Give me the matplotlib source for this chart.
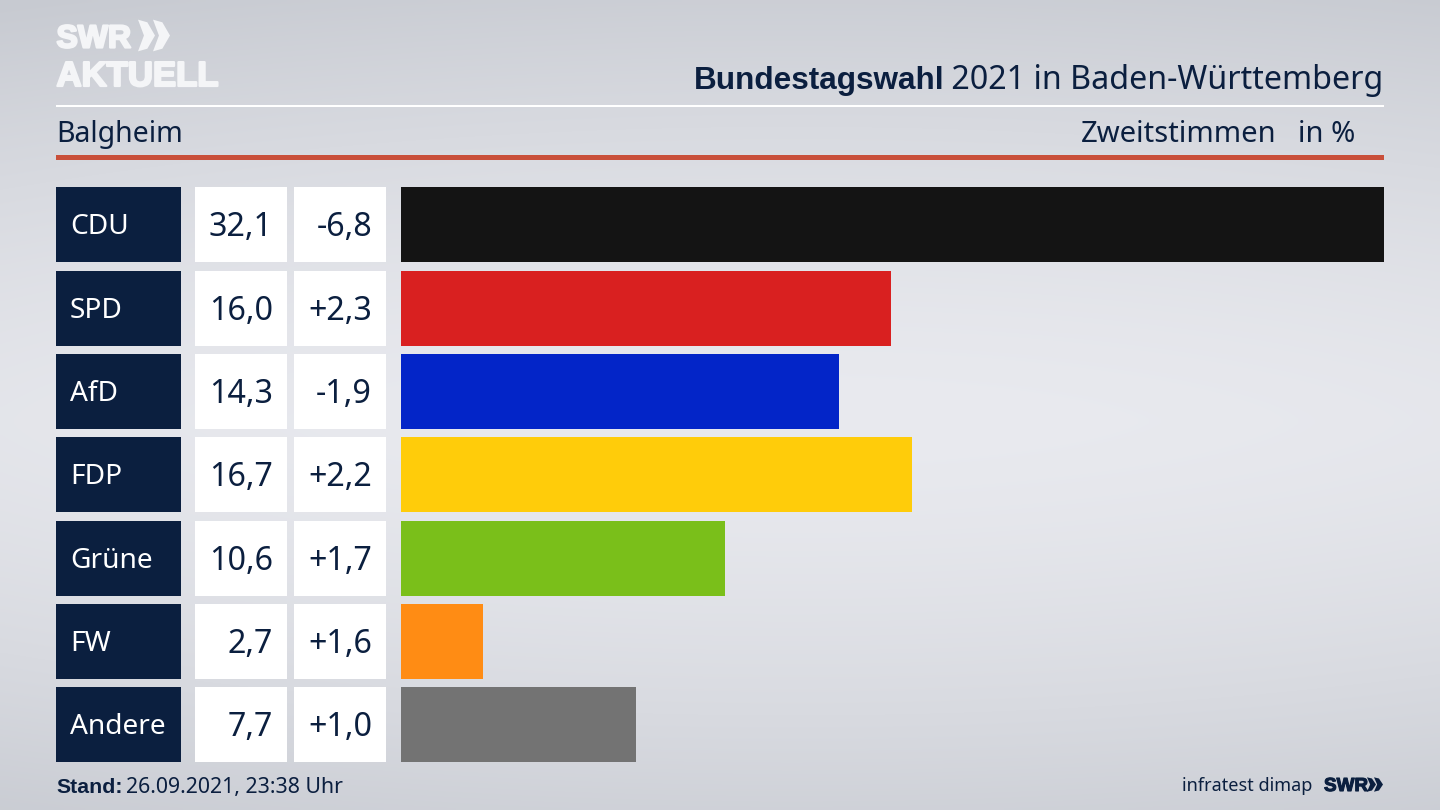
# SWR Bundestagswahl 2021 result chart for Balgheim

import numpy as np
import matplotlib
matplotlib.use('Agg')
import matplotlib.pyplot as plt
import matplotlib.patheffects as pe
from matplotlib.patches import Rectangle, Polygon

parties = ['CDU', 'SPD', 'AfD', 'FDP', 'Grüne', 'FW', 'Andere']
shares = [32.1, 16.0, 14.3, 16.7, 10.6, 2.7, 7.7]
changes = [-6.8, 2.3, -1.9, 2.2, 1.7, 1.6, 1.0]
colors = ['#141414', '#d92020', '#0325c8', '#ffcc0a', '#7abf1a', '#ff8c14', '#737373']

navy = '#0b1f3f'
logo_white = '#f4f5f7'
font = 'Noto Sans'
bold_font = 'Liberation Sans'
W, H = 1440, 810


def fmt(v):
	return '{:.1f}'.format(v).replace('.', ',')


def fmt_change(v):
	return '{:+.1f}'.format(v).replace('.', ',')


def chevrons(ax, x, y, h, w, gap, color):
	for k in range(2):
		x0 = x + k * gap
		ax.add_patch(Polygon([(x0, y + h * 0.02), (x0 + w * 0.55, y + h * 0.1), (x0 + w, y + h / 2),
			(x0 + w * 0.55, y + h * 0.9), (x0, y + h * 0.98), (x0 + w * 0.35, y + h / 2)],
			closed=True, facecolor=color, edgecolor='none', zorder=3))


fig = plt.figure(figsize=(14.4, 8.1), dpi=100)

# pixel coordinates for everything around the bars
ax = fig.add_axes([0, 0, 1, 1])
ax.set_xlim(0, W)
ax.set_ylim(H, 0)
ax.axis('off')

# background is lighter in the middle
yy, xx = np.mgrid[0:1:200j, 0:1:356j]
dist = np.clip(np.abs(yy - 0.52) / 0.52, 0, 1) ** 1.5 * 0.85 + np.abs(xx - 0.55) ** 2 * 0.5
c_light = np.array([233, 234, 239]) / 255
c_dark = np.array([199, 202, 209]) / 255
bg = c_light + (c_dark - c_light) * np.clip(dist, 0, 1)[..., None]
ax.imshow(bg, extent=[0, W, H, 0], aspect='auto', zorder=0, interpolation='bilinear')
ax.set_xlim(0, W)
ax.set_ylim(H, 0)

# logo, the stroke makes up for the font being wider than the original
stroke = [pe.withStroke(linewidth=1.6, foreground=logo_white)]
ax.text(56.5, 47.5, 'SWR', family=bold_font, weight='bold', fontsize=23, color=logo_white,
	va='baseline', ha='left', zorder=3, path_effects=stroke)
chevrons(ax, 138, 19, 33, 17, 15, logo_white)
ax.text(56.5, 86, 'AKTUELL', family=bold_font, weight='bold', fontsize=25, color=logo_white,
	va='baseline', ha='left', zorder=3, path_effects=stroke)

# header
t = ax.text(1383, 89, ' 2021 in Baden-Württemberg', family=font, fontsize=23.2, color=navy,
	va='baseline', ha='right', zorder=3)
fig.canvas.draw()
box = t.get_window_extent()
ax.text(box.x0 + 2, 89, 'Bundestagswahl', family=bold_font, weight='bold', fontsize=22.7, color=navy,
	va='baseline', ha='right', zorder=3)

ax.add_patch(Rectangle((56, 104.5), 1328, 2.5, facecolor='white', edgecolor='none', zorder=2))
ax.add_patch(Rectangle((56, 155), 1328, 5, facecolor='#c94f3a', edgecolor='none', zorder=2))

ax.text(56, 142, 'Balgheim', family=font, fontsize=20.5, color=navy, va='baseline', ha='left', zorder=3)
ax.text(1277, 142, 'Zweitstimmen', family=font, fontsize=21, color=navy, va='baseline', ha='right', zorder=3)
ax.text(1355, 142, 'in %', family=font, fontsize=21, color=navy, va='baseline', ha='right', zorder=3)

# table cells next to the bars
row_top = 187.3
row_step = 83.33
row_h = 75
for i, party in enumerate(parties):
	y = row_top + i * row_step
	ym = y + row_h / 2
	ax.add_patch(Rectangle((56, y), 125, row_h, facecolor=navy, edgecolor='none', zorder=2))
	ax.add_patch(Rectangle((195, y), 92, row_h, facecolor='white', edgecolor='none', zorder=2))
	ax.add_patch(Rectangle((294, y), 92, row_h, facecolor='white', edgecolor='none', zorder=2))
	ax.text(70, ym + 9.5, party, family=font, fontsize=20.2, color='white', va='baseline', ha='left', zorder=3)
	ax.text(273, ym + 11.5, fmt(shares[i]), family=font, fontsize=23.2, color=navy, va='baseline', ha='right', zorder=3)
	ax.text(372, ym + 11.5, fmt_change(changes[i]), family=font, fontsize=23.2, color=navy, va='baseline', ha='right', zorder=3)

# footer
s = ax.text(56, 793, 'Stand:', family=bold_font, weight='bold', fontsize=15.3, color=navy, va='baseline', ha='left', zorder=3)
fig.canvas.draw()
ax.text(s.get_window_extent().x1 + 4, 793, '26.09.2021, 23:38 Uhr', family=font, fontsize=15.3, color=navy,
	va='baseline', ha='left', zorder=3)
ax.text(1312, 791, 'infratest dimap', family=font, fontsize=13, color=navy, va='baseline', ha='right', zorder=3)
ax.text(1324, 791, 'SWR', family=bold_font, weight='bold', fontsize=13.6, color=navy, va='baseline', ha='left', zorder=3,
	path_effects=[pe.withStroke(linewidth=0.8, foreground=navy)])
chevrons(ax, 1367, 777, 15, 9, 7, navy)

# bars
left = 400.5
right = 1384
bar_ax = fig.add_axes([left / W, 1 - (row_top + 6 * row_step + row_h) / H,
	(right - left) / W, (6 * row_step + row_h) / H])
bar_ax.patch.set_alpha(0)
bar_ax.axis('off')
pos = np.arange(len(parties))
bar_ax.barh(pos, shares, height=row_h / row_step, color=colors, edgecolor='none')
bar_ax.set_xlim(0, max(shares))
pad = row_h / row_step / 2
bar_ax.set_ylim(len(parties) - 1 + pad, -pad)

plt.savefig('out.png', dpi=100)
plt.close()
